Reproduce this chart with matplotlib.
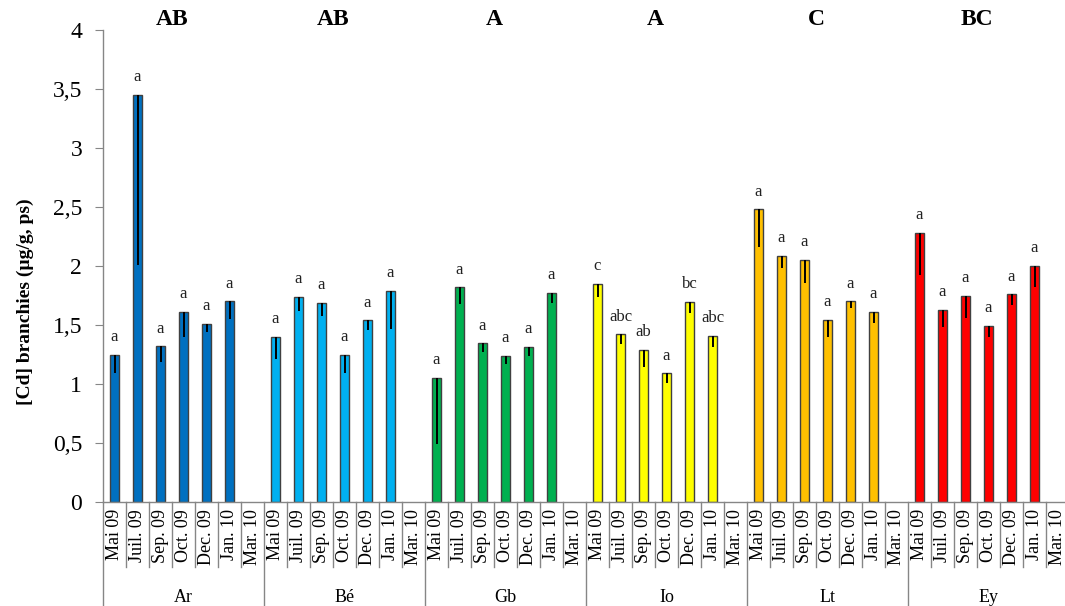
import matplotlib
matplotlib.use('Agg')
import matplotlib.pyplot as plt
import numpy as np
from matplotlib.transforms import blended_transform_factory

sites = ['Ar', 'Bé', 'Gb', 'Io', 'Lt', 'Ey']
months = ['Mai 09', 'Juil. 09', 'Sep. 09', 'Oct. 09', 'Dec. 09', 'Jan. 10', 'Mar. 10']
site_letters = ['AB', 'AB', 'A', 'A', 'C', 'BC']
colors = ['#0070C0', '#00B0F0', '#00B050', '#FFFF00', '#FFC000', '#FF0000']

# mean values (Mar. 10 has no data)
ar = [1.25, 3.45, 1.32, 1.61, 1.51, 1.70, np.nan]
be = [1.40, 1.74, 1.69, 1.25, 1.54, 1.79, np.nan]
gb = [1.05, 1.82, 1.345, 1.24, 1.315, 1.77, np.nan]
io = [1.85, 1.42, 1.29, 1.09, 1.695, 1.41, np.nan]
lt = [2.48, 2.085, 2.055, 1.545, 1.70, 1.61, np.nan]
ey = [2.28, 1.63, 1.75, 1.49, 1.76, 2.00, np.nan]

# standard errors (drawn downward only)
ar_err = [0.155, 1.44, 0.13, 0.21, 0.07, 0.145, np.nan]
be_err = [0.185, 0.125, 0.115, 0.155, 0.08, 0.32, np.nan]
gb_err = [0.555, 0.145, 0.07, 0.07, 0.08, 0.08, np.nan]
io_err = [0.115, 0.08, 0.145, 0.085, 0.09, 0.095, np.nan]
lt_err = [0.315, 0.105, 0.20, 0.145, 0.055, 0.09, np.nan]
ey_err = [0.36, 0.145, 0.19, 0.09, 0.09, 0.175, np.nan]

# significance letters per bar
ar_lab = ['a', 'a', 'a', 'a', 'a', 'a', '']
be_lab = ['a', 'a', 'a', 'a', 'a', 'a', '']
gb_lab = ['a', 'a', 'a', 'a', 'a', 'a', '']
io_lab = ['c', 'abc', 'ab', 'a', 'bc', 'abc', '']
lt_lab = ['a', 'a', 'a', 'a', 'a', 'a', '']
ey_lab = ['a', 'a', 'a', 'a', 'a', 'a', '']

values = [ar, be, gb, io, lt, ey]
errors = [ar_err, be_err, gb_err, io_err, lt_err, ey_err]
labels = [ar_lab, be_lab, gb_lab, io_lab, lt_lab, ey_lab]

serif = ['Liberation Serif', 'DejaVu Serif']
plt.rcParams['font.family'] = serif

W, H = 1065, 606
fig = plt.figure(figsize=(W / 100, H / 100), dpi=100)
ax_left, ax_right, ax_bottom, ax_top = 103, 1069, 502, 30
ax = fig.add_axes([ax_left / W, (H - ax_bottom) / H, (ax_right - ax_left) / W, (ax_bottom - ax_top) / H])

n_m = len(months)
ncat = n_m * len(sites)
grey = '#868686'

for g, (vals, errs, labs, col) in enumerate(zip(values, errors, labels, colors)):
    vals = np.array(vals, dtype=float)
    errs = np.array(errs, dtype=float)
    x = g * n_m + np.arange(n_m) + 0.5
    ok = ~np.isnan(vals)
    ax.bar(x[ok], vals[ok], width=0.42, color=col, edgecolor='#404040', linewidth=1.0, zorder=2)
    ax.errorbar(x[ok], vals[ok], yerr=[errs[ok], np.zeros(ok.sum())], fmt='none',
                ecolor='black', elinewidth=1.4, capsize=0, zorder=3)
    for xi, v, lab in zip(x[ok], vals[ok], np.array(labs)[ok]):
        ax.annotate(lab, (xi, v), xytext=(0, 7), textcoords='offset points',
                    ha='center', va='bottom', fontsize=12, color='#222222')
    ax.text(g * n_m + 3.0, 4.085, site_letters[g], ha='center', va='center',
            fontsize=17, fontweight='bold')

ax.set_xlim(0, ncat)
ax.set_ylim(0, 4)
yt = np.arange(0, 4.01, 0.5)
ax.set_yticks(yt)
ax.set_yticklabels([('%g' % t).replace('.', ',') for t in yt], fontsize=17)
ax.tick_params(axis='y', direction='out', length=6, color=grey, pad=9)
ax.set_xticks([])
for s in ['top', 'right']:
    ax.spines[s].set_visible(False)
for s in ['left', 'bottom']:
    ax.spines[s].set_color(grey)
    ax.spines[s].set_linewidth(1.0)

trans = blended_transform_factory(ax.transData, ax.transAxes)
axh = ax_bottom - ax_top
short_y = -(567 - ax_bottom) / axh
long_y = -(H + 5 - ax_bottom) / axh
for i in range(0, ncat):
    yb = long_y if i % n_m == 0 else short_y
    ax.plot([i, i], [0, yb], color=grey, lw=1.0, transform=trans, clip_on=False)

for g in range(len(sites)):
    for j, m in enumerate(months):
        ax.text(g * n_m + j + 0.5, -(509 - ax_bottom) / axh, m, rotation=90, ha='center', va='top',
                fontsize=13, transform=trans)
    ax.text(g * n_m + n_m / 2, -(597 - ax_bottom) / axh, sites[g], ha='center',
            va='center', fontsize=13, transform=trans)

fig.text(25 / W, (H - 302) / H, '[Cd] branchies (µg/g, ps)', rotation=90,
         ha='center', va='center', fontsize=14, fontweight='bold')

fig.savefig('out.png', dpi=100)
